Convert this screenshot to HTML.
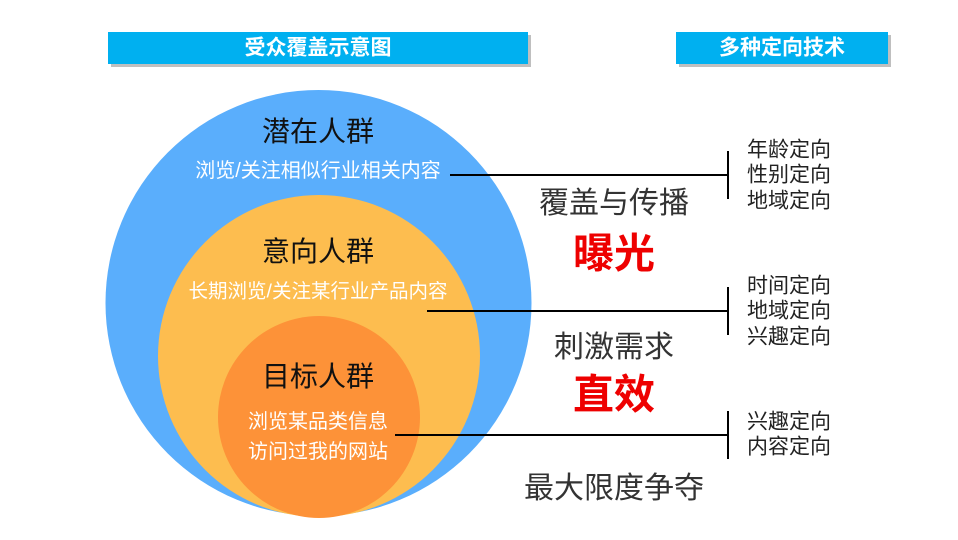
<!DOCTYPE html>
<html><head><meta charset="utf-8"><style>
body{margin:0;width:958px;height:540px;background:#fff;overflow:hidden;position:relative;font-family:"Liberation Sans","Noto Sans CJK SC",sans-serif}
.t{position:absolute;white-space:nowrap;line-height:1;transform:translate(-50%,-50%)}
.l{position:absolute;white-space:nowrap;line-height:1;transform:translateY(-50%);color:#222;font-size:21px}
</style></head><body>
<svg width="958" height="540" style="position:absolute;left:0;top:0">
<rect x="111" y="35" width="420" height="32" fill="#bfbfbf"/>
<rect x="108" y="32" width="420" height="32" fill="#00b0f0"/>
<rect x="679" y="35" width="212" height="32" fill="#bfbfbf"/>
<rect x="676" y="32" width="212" height="32" fill="#00b0f0"/>
<circle cx="318.5" cy="303" r="213" fill="#5aaefc"/>
<circle cx="319" cy="356" r="161" fill="#fdbd4f"/>
<circle cx="319" cy="417" r="101" fill="#fd9238"/>
<g stroke="#000" stroke-width="2">
<line x1="450" y1="175" x2="728" y2="175"/><line x1="728" y1="151" x2="728" y2="199"/>
<line x1="427" y1="311" x2="728" y2="311"/><line x1="728" y1="287" x2="728" y2="335"/>
<line x1="395" y1="435" x2="728" y2="435"/><line x1="728" y1="411" x2="728" y2="459"/>
</g></svg>
<div class="t" style="left:318px;top:48px;color:#fff;font-size:21px;font-weight:600">受众覆盖示意图</div>
<div class="t" style="left:782px;top:48px;color:#fff;font-size:21px;font-weight:600">多种定向技术</div>
<div class="t" style="left:318px;top:132px;font-size:28px;color:#111">潜在人群</div>
<div class="t" style="left:318px;top:171px;font-size:20px;color:#fff">浏览/关注相似行业相关内容</div>
<div class="t" style="left:318px;top:252px;font-size:28px;color:#111">意向人群</div>
<div class="t" style="left:318px;top:292px;font-size:19.5px;color:#fff">长期浏览/关注某行业产品内容</div>
<div class="t" style="left:318px;top:377px;font-size:28px;color:#111">目标人群</div>
<div class="t" style="left:318px;top:422px;font-size:20px;color:#fff">浏览某品类信息</div>
<div class="t" style="left:318px;top:452px;font-size:20px;color:#fff">访问过我的网站</div>
<div class="t" style="left:614px;top:204px;font-size:30px;color:#333">覆盖与传播</div>
<div class="t" style="left:614px;top:254px;font-size:41px;color:#e00;font-weight:bold">曝光</div>
<div class="t" style="left:614px;top:348px;font-size:30px;color:#333">刺激需求</div>
<div class="t" style="left:614px;top:395px;font-size:41px;color:#e00;font-weight:bold">直效</div>
<div class="t" style="left:614px;top:489px;font-size:30px;color:#333">最大限度争夺</div>
<div class="l" style="left:747px;top:150px">年龄定向</div>
<div class="l" style="left:747px;top:175px">性别定向</div>
<div class="l" style="left:747px;top:201px">地域定向</div>
<div class="l" style="left:747px;top:286px">时间定向</div>
<div class="l" style="left:747px;top:311px">地域定向</div>
<div class="l" style="left:747px;top:337px">兴趣定向</div>
<div class="l" style="left:747px;top:422px">兴趣定向</div>
<div class="l" style="left:747px;top:447px">内容定向</div>
</body></html>
